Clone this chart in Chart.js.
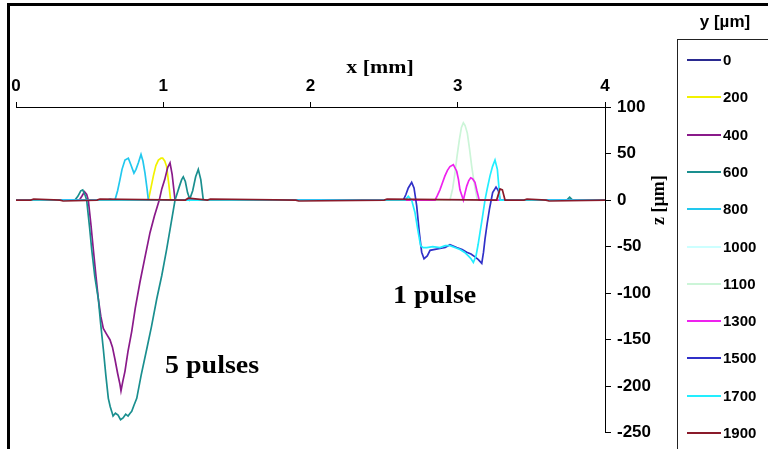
<!DOCTYPE html>
<html><head><meta charset="utf-8">
<script src="https://cdn.jsdelivr.net/npm/chart.js@4.4.1/dist/chart.umd.min.js"></script>
<style>
html,body{margin:0;padding:0;background:#fff;}
#wrap{position:relative;width:768px;height:449px;overflow:hidden;background:#fff;}
#chartBox{position:absolute;left:0;top:0;width:768px;height:449px;}
#frame{position:absolute;left:7px;top:3px;width:820px;height:520px;border-top:3px solid #000;border-left:3px solid #000;pointer-events:none;}
#legendTitle{position:absolute;left:677px;width:96px;top:12px;text-align:center;font:bold 17px "Liberation Sans",Arial,sans-serif;color:#000;line-height:20px;}
#legendBox{position:absolute;left:677px;top:39px;width:120px;height:450px;border:1px solid #222;background:#fff;}
.lgLine{position:absolute;left:687px;width:34px;height:2px;}
.lgLab{position:absolute;left:723px;font:bold 15px "Liberation Sans",Arial,sans-serif;color:#000;line-height:18px;}
</style></head>
<body>
<div id="wrap">
  <div id="chartBox"><canvas id="c"></canvas></div>
  <div id="legendBox"></div>
  <div id="legendTitle"></div>
  <div id="frame"></div>
</div>
<script>
// ---- data ----
const xTicks = [0, 1, 2, 3, 4];
const zTicks = [100, 50, 0, -50, -100, -150, -200, -250];
const xTitle = 'x [mm]';
const zTitle = 'z [µm]';
const legendTitle = 'y [µm]';
const seriesY = [0, 200, 400, 600, 800, 1000, 1100, 1300, 1500, 1700, 1900];
const colors = ['#2a2a90', '#f2f200', '#8a1a8a', '#1a8f8f', '#22c8ee', '#ccffff', '#ccf5d8', '#ee22ee', '#3030c8', '#22eeff', '#8a1a2a'];

const x0 = [0, 4];
const z0 = [0, 0];

const x200 = [0, 0.88, 0.899, 0.915, 0.933, 0.95, 0.967, 0.985, 0.996, 1.01, 1.023, 1.037, 1.05, 1.07, 4];
const z200 = [0, 0, 0, 12, 26, 37, 43, 45, 45, 42, 36, 18, 0, 0, 0];

const x400 = [0, 0.43, 0.45, 0.465, 0.48, 0.491, 0.508, 0.525, 0.542, 0.559, 0.576, 0.593, 0.615, 0.638, 0.655, 0.672, 0.69, 0.706, 0.713, 0.725, 0.74, 0.76, 0.786, 0.81, 0.842, 0.875, 0.91, 0.94, 0.973, 0.99, 1.01, 1.03, 1.046, 1.06, 1.08, 1.1, 4];
const z400 = [0, 0, 5, 9, 6, 0, -25, -53, -80, -106, -125, -138, -144, -150, -158, -171, -186, -198, -205, -195, -184, -163, -141, -116, -88, -62, -35, -17, 0, 12, 22, 35, 40, 28, 0, 0, 0];

const x600 = [0, 0.4, 0.42, 0.44, 0.453, 0.47, 0.48, 0.5, 0.514, 0.535, 0.559, 0.575, 0.593, 0.61, 0.627, 0.64, 0.65, 0.659, 0.675, 0.693, 0.71, 0.727, 0.745, 0.761, 0.775, 0.786, 0.8, 0.82, 0.85, 0.888, 0.92, 0.956, 0.99, 1.023, 1.05, 1.08, 1.09, 1.11, 1.125, 1.136, 1.15, 1.165, 1.18, 1.2, 1.22, 1.238, 1.255, 1.272, 1.3, 3.74, 3.76, 3.78, 4];
const z600 = [0, 0, 4, 10, 11, 5, 0, -30, -53, -82, -106, -133, -160, -188, -213, -222, -227, -232, -229, -231, -236, -234, -230, -232, -229, -227, -221, -213, -188, -160, -136, -106, -81, -53, -28, 0, 5, 15, 22, 25, 20, 8, 1, 10, 25, 33, 22, 0, 0, 0, 3, 0, 0];

const x800 = [0, 0.62, 0.64, 0.66, 0.672, 0.69, 0.706, 0.72, 0.74, 0.763, 0.78, 0.801, 0.815, 0.831, 0.849, 0.862, 0.876, 0.89, 0.899, 4];
const z800 = [0, 0, 1, 0, 0, 10, 22, 33, 43, 45, 38, 29, 33, 40, 49, 42, 29, 12, 0, 0];

const x1000 = [0, 4];
const z1000 = [0, 0];

const x1100 = [0, 2.93, 2.947, 2.965, 2.981, 2.995, 3.011, 3.025, 3.038, 3.05, 3.065, 3.08, 3.095, 3.115, 3.133, 3.15, 4];
const z1100 = [0, 0, 0, 12, 29, 47, 65, 78, 83, 80, 72, 55, 36, 15, 0, 0, 0];

const x1300 = [0, 2.83, 2.846, 2.862, 2.879, 2.895, 2.913, 2.93, 2.947, 2.97, 2.993, 3.005, 3.015, 3.038, 3.05, 3.061, 3.075, 3.088, 3.1, 3.117, 3.13, 3.146, 3.16, 4];
const z1300 = [0, 0, 0, 5, 11, 18, 26, 32, 36, 38, 31, 22, 11, 0, 8, 15, 21, 24, 23, 19, 10, 0, 0, 0];

const x1500 = [0, 2.61, 2.63, 2.648, 2.664, 2.687, 2.703, 2.721, 2.739, 2.755, 2.771, 2.793, 2.812, 2.845, 2.879, 2.915, 2.947, 2.993, 3.03, 3.061, 3.09, 3.117, 3.14, 3.163, 3.175, 3.185, 3.2, 3.215, 3.237, 3.26, 3.276, 3.287, 3.31, 4];
const z1500 = [0, 0, 0, 6, 13, 19, 13, -6, -35, -56, -63, -60, -54, -53, -52, -51, -48, -51, -53, -56, -58, -61, -64, -68, -56, -42, -25, -10, 8, 14, 10, 0, 0, 0];

const x1700 = [0, 2.62, 2.642, 2.664, 2.687, 2.709, 2.732, 2.748, 2.765, 2.789, 2.83, 2.879, 2.915, 2.947, 2.98, 3.015, 3.045, 3.072, 3.09, 3.106, 3.124, 3.138, 3.151, 3.168, 3.185, 3.2, 3.219, 3.236, 3.253, 3.269, 3.287, 3.3, 4];
const z1700 = [0, 0, 0, 4, 0, -13, -35, -49, -51, -51, -50, -51, -49, -49, -51, -53, -56, -60, -63, -67, -60, -48, -35, -18, 0, 12, 26, 36, 43, 33, 0, 0, 0];

const x1900 = [0, 0.1, 0.12, 0.3, 0.32, 0.55, 0.57, 1.15, 1.17, 1.3, 1.32, 1.9, 1.92, 2.5, 2.52, 3.264, 3.287, 3.303, 3.321, 3.45, 3.47, 3.6, 3.62, 4];
const z1900 = [0, 0, 1, 0, -1, 0, 1, 0, 2, 0, 1, 0, -1, 0, 1, 0, 12, 11, 0, 0, 1, 0, -1, 0];

const profilesX = [x0, x200, x400, x600, x800, x1000, x1100, x1300, x1500, x1700, x1900];
const profilesZ = [z0, z200, z400, z600, z800, z1000, z1100, z1300, z1500, z1700, z1900];

const notes = [
  {text: '5 pulses', x: 1.012, z: -178.5},
  {text: '1 pulse', x: 2.56, z: -104}
];

// ---- legend (HTML) ----
document.getElementById('legendTitle').textContent = legendTitle;
const wrap = document.getElementById('wrap');
seriesY.forEach((v, i) => {
  const cy = 60 + 37.3 * i;
  const ln = document.createElement('div');
  ln.className = 'lgLine';
  ln.style.top = (cy - 1) + 'px';
  ln.style.background = colors[i];
  wrap.appendChild(ln);
  const lb = document.createElement('div');
  lb.className = 'lgLab';
  lb.style.top = (cy - 9) + 'px';
  lb.textContent = String(v);
  wrap.appendChild(lb);
});

// ---- chart ----
const N = seriesY.length;
const datasets = seriesY.map((v, i) => ({
  label: String(v),
  data: profilesX[i].map((xx, k) => ({x: xx, y: profilesZ[i][k]})),
  borderColor: colors[i],
  backgroundColor: colors[i],
  borderWidth: 1.7,
  pointRadius: 0,
  tension: 0,
  fill: false,
  order: N - 1 - i
}));

const sans = '"Liberation Sans", Arial, sans-serif';
const serif = '"Liberation Serif", "Times New Roman", serif';

const textPlugin = {
  id: 'texts',
  afterDraw(chart) {
    const {ctx} = chart;
    const sx = chart.scales.x, sy = chart.scales.y;
    ctx.save();
    ctx.fillStyle = '#000';
    ctx.textBaseline = 'middle';
    // x title
    ctx.font = 'bold 19px ' + serif;
    ctx.textAlign = 'center';
    ctx.save();
    ctx.translate(380, 68);
    ctx.scale(1.15, 1);
    ctx.fillText(xTitle, 0, 0);
    ctx.restore();
    // z title (rotated)
    ctx.save();
    ctx.translate(659, sy.getPixelForValue(0));
    ctx.rotate(-Math.PI / 2);
    ctx.font = 'bold 18px ' + serif;
    ctx.textAlign = 'center';
    ctx.fillText(zTitle, 0, 0);
    ctx.restore();
    // notes
    ctx.font = 'bold 25px ' + serif;
    ctx.textAlign = 'left';
    notes.forEach(n => {
      ctx.save();
      ctx.translate(sx.getPixelForValue(n.x), sy.getPixelForValue(n.z));
      ctx.scale(1.12, 1);
      ctx.fillText(n.text, 0, 0);
      ctx.restore();
    });
    ctx.restore();
  }
};

new Chart(document.getElementById('c'), {
  type: 'line',
  data: {datasets},
  options: {
    responsive: true,
    maintainAspectRatio: false,
    animation: false,
    devicePixelRatio: 1,
    events: [],
    layout: {padding: {left: 16, right: 88, top: 0, bottom: 14}},
    plugins: {legend: {display: false}, tooltip: {enabled: false}, title: {display: false}},
    scales: {
      x: {
        type: 'linear', position: 'top', min: 0, max: 4,
        afterBuildTicks: s => { s.ticks = xTicks.map(v => ({value: v})); },
        afterFit: s => { s.height = 107; },
        ticks: {font: {family: sans, size: 17, weight: 'bold'}, color: '#000', padding: 5, maxRotation: 0, autoSkip: false},
        grid: {display: true, drawOnChartArea: false, drawTicks: true, tickLength: 5, color: '#000', tickColor: '#000', lineWidth: 1},
        border: {display: true, color: '#000', width: 1}
      },
      y: {
        type: 'linear', position: 'right', min: -250, max: 100,
        afterBuildTicks: s => { s.ticks = zTicks.map(v => ({value: v})); },
        afterFit: s => { s.width = 75; },
        ticks: {font: {family: sans, size: 17, weight: 'bold'}, color: '#000', padding: 6, autoSkip: false},
        grid: {display: true, drawOnChartArea: false, drawTicks: true, tickLength: 6, color: '#000', tickColor: '#000', lineWidth: 1},
        border: {display: true, color: '#000', width: 1}
      }
    }
  },
  plugins: [textPlugin]
});
</script>
</body></html>
